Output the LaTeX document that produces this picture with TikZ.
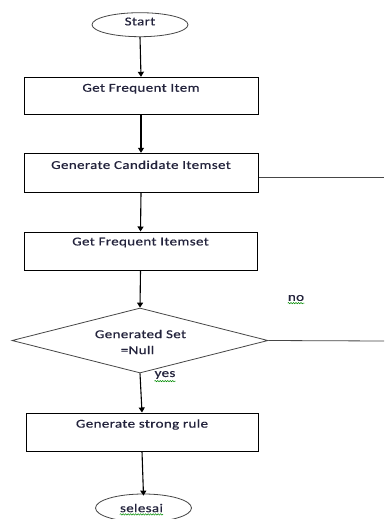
\documentclass[tikz,border=0pt]{standalone}
\usepackage{fontspec}
\setmainfont{Carlito}[FakeStretch=1.25,LetterSpace=3,FakeBold=0.6]
\usetikzlibrary{shapes.geometric,arrows.meta,decorations.pathmorphing}
\definecolor{txtc}{RGB}{35,35,60}
\definecolor{edgec}{RGB}{70,70,70}
\tikzset{
  box/.style={draw=black,line width=1pt,rectangle,inner sep=0pt,minimum width=234pt},
  term/.style={draw=edgec,line width=0.8pt,ellipse,inner sep=0pt,minimum width=96pt,minimum height=24pt},
  dec/.style={draw=edgec,line width=0.8pt,diamond,inner sep=0pt,minimum width=256pt,minimum height=65pt},
  txt/.style={inner sep=0pt,font=\fontsize{12pt}{14pt}\selectfont,text=txtc},
  arr/.style={draw=black,line width=1.1pt,-{Triangle[width=6pt,length=5pt]}},
  plain/.style={draw=edgec,line width=0.8pt},
  squig/.style={draw=green!55!black,line width=0.5pt,decorate,decoration={snake,segment length=2.5pt,amplitude=0.7pt}}
}
\begin{document}
\begin{tikzpicture}[x=1pt,y=-1pt]
\useasboundingbox[fill=white] (0,0) rectangle (384,519);
\node[term] (start) at (140,24.7) {};
\node[txt] (tstart) at (140,21.5) {Start};
\node[box,minimum height=37pt] (b1) at (141,95.8) {};
\node[txt] (t1) at ([yshift=-12pt]b1.north) {Get Frequent Item};
\node[box,minimum height=39pt] (b2) at (141,172.8) {};
\node[txt] (t2) at ([yshift=-12pt]b2.north) {Generate Candidate Itemset};
\node[box,minimum height=38pt,minimum width=233pt] (b3) at (140.5,251) {};
\node[txt] (t3) at ([yshift=-11pt]b3.north) {Get Frequent Itemset};
\node[dec] (d) at (140,340.5) {};
\node[txt] (td1) at (140.5,334) {Generated Set};
\node[txt] (td2) at (137.5,350) {=Null};
\node[box,minimum height=38pt,minimum width=232pt] (b4) at (142,432) {};
\node[txt] (t4) at ([yshift=-12pt]b4.north) {Generate strong rule};
\node[term,minimum height=28pt] (end) at (143.5,508) {};
\node[txt] (tend) at (141.5,508) {selesai};
\node[txt] (tno) at (296,298) {no};
\node[txt] (tyes) at (165,375) {yes};
\coordinate (r1) at (384,177.3);
\coordinate (r2) at (384,341);
\draw[arr] (start.south) -- (b1.north);
\draw[arr] (b1.south) -- (b2.north);
\draw[arr] (b2.south) -- (b3.north);
\draw[arr] (b3.south) -- (d.north);
\draw[arr] (d.south) -- (b4.north);
\draw[arr] (b4.south) -- ([yshift=-2pt]end.north);
\draw[plain] (b2.east |- r1) -- (r1);
\draw[plain] (d.east) -- (r2);
\draw[squig] ([yshift=-2pt]tno.south west) -- ([yshift=-2pt]tno.south east);
\draw[squig] ([yshift=-2pt]tyes.south west) -- ([yshift=-2pt]tyes.south east);
\draw[squig] ([yshift=-2pt]tend.south west) -- ([yshift=-2pt]tend.south east);
\end{tikzpicture}
\end{document}
